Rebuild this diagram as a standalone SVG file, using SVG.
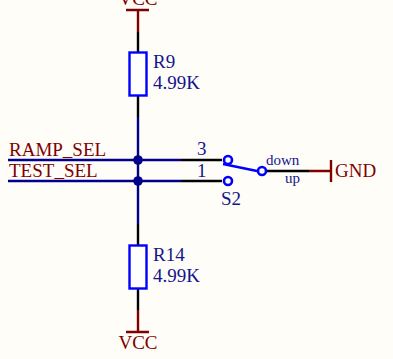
<svg xmlns="http://www.w3.org/2000/svg" width="393" height="359" viewBox="0 0 393 359">
<style>
text{font-family:"Liberation Serif","Times New Roman",serif}
.des{fill:#14148c;font-size:19px}
.small{fill:#14148c;font-size:15px}
.net{fill:#800000;font-size:19px}
.w{fill:none;stroke:#00008b;stroke-width:2.4}
.k{fill:none;stroke:#000;stroke-width:2.4}
.r{fill:none;stroke:#800000;stroke-width:2.4}
.b{fill:#fff;stroke:#0000ff;stroke-width:2.4}
.c{fill:#fff;stroke:#0000ff;stroke-width:2.6}
</style>
<rect width="393" height="359" fill="#fffdf8"/>
<g id="connectors">
<path class="r" d="M138 10V32M126 10H149"/>
<path class="k" d="M138 32V52M138 96V117"/>
<path class="w" d="M138 117V160M8 160H181M8 181H181M138 160V181M138 181V224"/>
<path class="k" d="M181 160H222M181 181H222M138 224V245M138 289V310"/>
<path class="r" d="M138 310V332M126 332H149M309 171H331M331 160V182"/>
<path class="k" d="M267 171H309"/>
<path d="M223 164L257 171" fill="none" stroke="#0000ff" stroke-width="2.400"/>
<circle cx="138" cy="160" r="4.800" fill="#00008b"/>
<circle cx="138" cy="181" r="4.800" fill="#00008b"/>
</g>
<g id="vcc-top"><text class="net" x="138" y="5" text-anchor="middle">VCC</text></g>
<g id="R9"><rect class="b" x="129.500" y="52.500" width="17" height="43"/><text class="des" x="153" y="68">R9</text><text class="des" x="153" y="89">4.99K</text></g>
<g id="R14"><rect class="b" x="129.500" y="245.500" width="17" height="43"/><text class="des" x="153" y="261">R14</text><text class="des" x="153" y="282">4.99K</text></g>
<g id="vcc-bottom"><text class="net" x="138" y="349" text-anchor="middle">VCC</text></g>
<g id="ramp-sel"><text class="net" x="9" y="156">RAMP_SEL</text></g>
<g id="test-sel"><text class="net" x="9" y="177">TEST_SEL</text></g>
<g id="S2">
<text class="des" x="197" y="155">3</text><text class="des" x="197" y="177">1</text>
<circle class="c" cx="228" cy="160" r="4"/><circle class="c" cx="228" cy="181" r="4"/><circle class="c" cx="262" cy="171" r="4"/>
<text class="small" x="266" y="165">down</text><text class="small" x="285" y="183">up</text>
<text class="des" x="221" y="205">S2</text>
</g>
<g id="gnd"><text class="net" x="335" y="177">GND</text></g>
</svg>
